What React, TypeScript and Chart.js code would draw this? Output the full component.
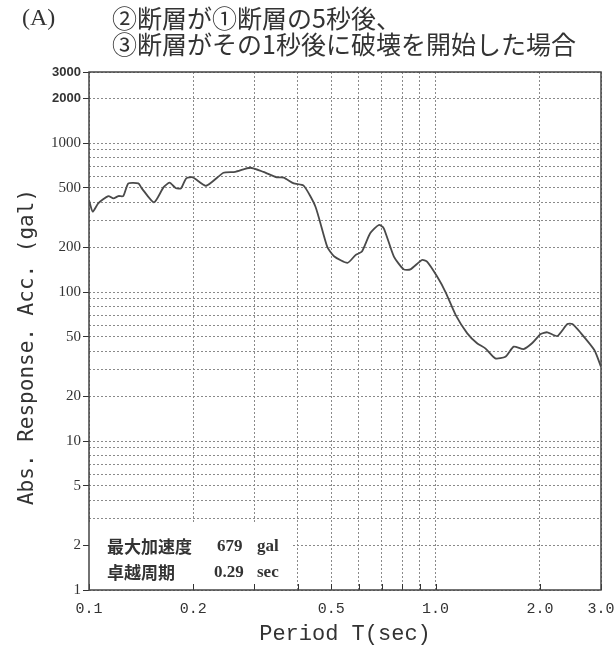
import { useEffect, useRef } from "react";
import { Chart, registerables } from "chart.js";
Chart.register(...registerables);

// Spectrum data (period in sec, abs. response acc. in gal)
const periods = [0.1, 0.1025, 0.1063, 0.1137, 0.1176, 0.1216, 0.1256, 0.1299, 0.1388, 0.142, 0.154, 0.164, 0.1707, 0.1783, 0.1843, 0.1908, 0.1993, 0.2178, 0.2443, 0.2641, 0.2918, 0.3186, 0.3485, 0.3644, 0.3898, 0.4164, 0.4502, 0.4869, 0.5091, 0.5568, 0.5873, 0.613, 0.6474, 0.6858, 0.7086, 0.7579, 0.8091, 0.8458, 0.9135, 0.9445, 1.01, 1.068, 1.143, 1.234, 1.317, 1.391, 1.486, 1.59, 1.68, 1.794, 1.897, 2.01, 2.1, 2.245, 2.4, 2.48, 2.62, 2.87, 3.0];
const accel = [414, 346, 394, 441, 425, 441, 441, 536, 536, 497, 400, 504, 542, 497, 497, 580, 589, 517, 632, 641, 683, 641, 589, 586, 536, 517, 374, 201, 174, 157, 177, 187, 248, 282, 268, 173, 142, 142, 164, 160, 127, 100, 70, 52.8, 45.3, 41.9, 35.9, 36.8, 43, 41.4, 45.3, 52.3, 53.7, 50.7, 61, 61, 53.3, 40.8, 31.5];

const xGridValues = [0.1, 0.2, 0.3, 0.4, 0.5, 0.6, 0.7, 0.8, 0.9, 1, 2, 3];
const xLabelValues = [0.1, 0.2, 0.5, 1, 2, 3];
const xLabelTexts = ["0.1", "0.2", "0.5", "1.0", "2.0", "3.0"];
const yGridValues = [1, 2, 3, 4, 5, 6, 7, 8, 9, 10, 20, 30, 40, 50, 60, 70, 80, 90, 100, 200, 300, 400, 500, 600, 700, 800, 900, 1000, 2000, 3000];
const yLabelValues = [1, 2, 5, 10, 20, 50, 100, 200, 500, 1000, 2000, 3000];

const titleTag = "(A)";
const titleLines = ["②断層が①断層の5秒後、", "③断層がその1秒後に破壊を開始した場合"];
const xTitle = "Period T(sec)";
const yTitle = "Abs. Response. Acc. (gal)";
const noteLabels = ["最大加速度", "卓越周期"];
const noteValues = ["679", "0.29"];
const noteUnits = ["gal", "sec"];

const INK = "#333";

const decorPlugin = {
  id: "decor",
  beforeDatasetsDraw(chart: any) {
    const { ctx, chartArea: a, scales } = chart;
    const xs = scales.x;
    const ys = scales.y;
    ctx.save();
    // white note box covering the grid in the lower-left corner
    ctx.fillStyle = "#fff";
    const bx2 = xs.getPixelForValue(0.385);
    const by1 = ys.getPixelForValue(2.8);
    ctx.fillRect(a.left, by1, bx2 - a.left, a.bottom - by1);
    // bottom tick marks (inside)
    ctx.strokeStyle = INK;
    ctx.lineWidth = 1;
    ctx.beginPath();
    for (const v of xGridValues) {
      const px = Math.round(xs.getPixelForValue(v)) + 0.5;
      ctx.moveTo(px, a.bottom);
      ctx.lineTo(px, a.bottom - 6);
    }
    ctx.stroke();
    // frame
    ctx.strokeStyle = "#444";
    ctx.lineWidth = 1.5;
    ctx.strokeRect(a.left, a.top, a.right - a.left, a.bottom - a.top);
    ctx.restore();
  },
  afterDraw(chart: any) {
    const { ctx, chartArea: a } = chart;
    ctx.save();
    ctx.fillStyle = INK;
    ctx.textBaseline = "middle";
    // titles
    ctx.textAlign = "left";
    ctx.font = "24px 'Liberation Serif'";
    ctx.fillText(titleTag, 22, 19);
    ctx.font = "25px 'Noto Sans CJK JP'";
    ctx.fillText(titleLines[0], 112, 18);
    ctx.fillText(titleLines[1], 112, 44);
    // x title
    ctx.textAlign = "center";
    ctx.font = "22px 'Liberation Mono'";
    ctx.fillText(xTitle, (a.left + a.right) / 2, 634);
    // y title
    ctx.save();
    ctx.translate(28, (a.top + a.bottom) / 2 + 16);
    ctx.rotate(-Math.PI / 2);
    ctx.font = "21px 'DejaVu Sans Mono'";
    ctx.fillText(yTitle, 0, 0);
    ctx.restore();
    // note
    ctx.textAlign = "left";
    const rowsY = [547, 573];
    for (let i = 0; i < 2; i++) {
      ctx.font = "bold 17px 'Noto Sans CJK JP'";
      ctx.fillText(noteLabels[i], 107, rowsY[i]);
      ctx.font = "bold 17px 'Liberation Serif'";
      ctx.fillText(noteValues[i], i === 0 ? 217 : 214, rowsY[i]);
      ctx.fillText(noteUnits[i], 257, rowsY[i]);
    }
    ctx.restore();
  },
};

export default function App() {
  const ref = useRef<HTMLCanvasElement | null>(null);
  useEffect(() => {
    if (!ref.current) return;
    const chart = new Chart(ref.current, {
      type: "line",
      data: {
        datasets: [
          {
            data: periods.map((p, i) => ({ x: p, y: accel[i] })),
            borderColor: "#4a4a4a",
            borderWidth: 1.8,
            pointRadius: 0,
            tension: 0.2,
            fill: false,
          },
        ],
      },
      options: {
        animation: false,
        responsive: false,
        layout: { padding: { left: 0, right: 0, top: 72, bottom: 0 } },
        plugins: { legend: { display: false }, tooltip: { enabled: false }, title: { display: false } },
        scales: {
          x: {
            type: "logarithmic",
            min: 0.1,
            max: 3,
            afterBuildTicks: (s: any) => {
              s.ticks = xGridValues.map((v) => ({ value: v }));
            },
            afterFit: (s: any) => {
              s.height = 59;
              s.paddingLeft = 0;
              s.paddingRight = 13;
            },
            grid: { color: "#8a8a8a", lineWidth: 1, drawTicks: false },
            border: { display: false, dash: [2, 2] },
            ticks: {
              autoSkip: false,
              maxRotation: 0,
              padding: 10,
              color: INK,
              font: { family: "'Liberation Mono'", size: 15 },
              callback: (v: any) => {
                const idx = xLabelValues.findIndex((x) => Math.abs(x - Number(v)) < 1e-9);
                return idx >= 0 ? xLabelTexts[idx] : "";
              },
            },
          },
          y: {
            type: "logarithmic",
            min: 1,
            max: 3000,
            afterBuildTicks: (s: any) => {
              s.ticks = yGridValues.map((v) => ({ value: v }));
            },
            afterFit: (s: any) => {
              s.width = 89;
            },
            grid: {
              color: "#8a8a8a",
              lineWidth: 1,
              tickLength: 6,
              tickWidth: 1,
              tickBorderDash: [],
              tickColor: (c: any) => (c.tick && yLabelValues.includes(c.tick.value) ? INK : "rgba(0,0,0,0)"),
            },
            border: { display: false, dash: [2, 2] },
            ticks: {
              autoSkip: false,
              padding: 2,
              color: INK,
              font: (c: any) =>
                c.tick && c.tick.value >= 2000
                  ? { family: "'Liberation Sans'", size: 13, weight: "bold" }
                  : { family: "'Liberation Serif'", size: 15 },
              callback: (v: any) => (yLabelValues.includes(Number(v)) ? String(v) : ""),
            },
          },
        },
      },
      plugins: [decorPlugin],
    } as any);
    return () => chart.destroy();
  }, []);
  return (
    <div style={{ position: "absolute", left: 0, top: 0, width: 614, height: 649, background: "#fff" }}>
      <canvas ref={ref} width={614} height={649} style={{ display: "block" }} />
    </div>
  );
}
